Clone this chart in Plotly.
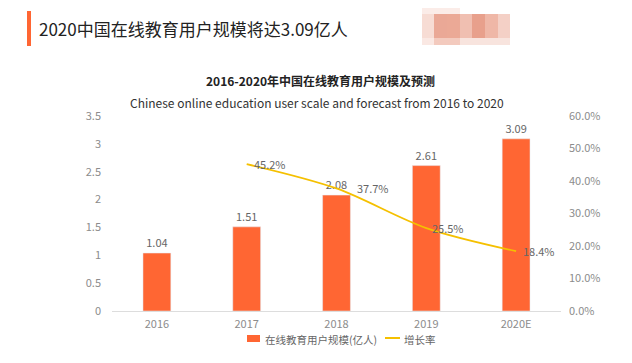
import plotly.graph_objects as go

categories = ["2016", "2017", "2018", "2019", "2020E"]
users = [1.04, 1.51, 2.08, 2.61, 3.09]
growth_x = ["2017", "2018", "2019", "2020E"]
growth = [45.2, 37.7, 25.5, 18.4]
y_ticks = [0, 0.5, 1, 1.5, 2, 2.5, 3, 3.5]
y_tick_text = ["0", "0.5", "1", "1.5", "2", "2.5", "3", "3.5"]
y2_ticks = [0, 10, 20, 30, 40, 50, 60]
y2_tick_text = ["0.0%", "10.0%", "20.0%", "30.0%", "40.0%", "50.0%", "60.0%"]
bar_name = "在线教育用户规模(亿人)"
line_name = "增长率"

FONT = "Noto Sans CJK SC"
GREY = "#8c8c8c"
BAR_C = "#FF6633"
LINE_C = "#F5C000"

# page body adds an 8px margin; size the figure so it fits the 632x363 window
W, H = 624, 355
PL, PT, PW, PH = 112, 116, 449, 195  # plot area in window pixels


def dx(px):
    return (px - PL) / PW


def dy(py):
    return (PT + PH - py) / PH


fig = go.Figure()
fig.add_trace(go.Bar(
    x=categories, y=users, name=bar_name,
    marker=dict(color=BAR_C), width=0.31,
    text=[f"{v:.2f}" for v in users], textposition="outside",
    textfont=dict(color="#666666", size=11, family=FONT),
    cliponaxis=False, showlegend=False,
))
fig.add_trace(go.Scatter(
    x=growth_x, y=growth, name=line_name, yaxis="y2",
    mode="lines", line=dict(color=LINE_C, width=1.8, shape="spline", smoothing=0.9),
    cliponaxis=False, showlegend=False,
))

label_shift = [5, 18, 4, 5]
for cx, v, s in zip(growth_x, growth, label_shift):
    fig.add_annotation(x=categories.index(cx), y=v, xref="x", yref="y2", text=f"{v}%",
                       showarrow=False, xanchor="left", yanchor="middle", xshift=s,
                       font=dict(color="#666666", size=11, family=FONT))

fig.update_layout(
    width=W, height=H,
    margin=dict(l=PL - 8, r=W - (PL - 8) - PW, t=PT - 8, b=H - (PT - 8) - PH, autoexpand=False),
    paper_bgcolor="white", plot_bgcolor="white",
    font=dict(family=FONT, color=GREY, size=11),
    showlegend=False,
    xaxis=dict(type="category", categoryorder="array", categoryarray=categories,
               range=[-0.5, len(categories) - 0.5],
               showgrid=False, showline=True, linecolor="#dddddd", ticks="",
               ticklabelstandoff=3,
               automargin=False, tickfont=dict(size=11, color=GREY)),
    yaxis=dict(range=[0, 3.5], tickvals=y_ticks, ticktext=y_tick_text, showgrid=False,
               zeroline=False, showline=False, ticks="", ticklabelstandoff=10, automargin=False,
               tickfont=dict(size=11, color=GREY)),
    yaxis2=dict(range=[0, 60], tickvals=y2_ticks, ticktext=y2_tick_text, overlaying="y",
                side="right", showgrid=False, zeroline=False, showline=False, ticks="",
                ticklabelstandoff=7, automargin=False, tickfont=dict(size=11, color=GREY)),
    bargap=0.69,
)

# custom legend
fig.add_shape(type="rect", xref="x domain", yref="y domain",
              x0=dx(247), x1=dx(260), y0=dy(342), y1=dy(335),
              fillcolor=BAR_C, line_width=0)
fig.add_annotation(xref="paper", yref="paper", x=dx(263), y=dy(339),
                   xanchor="left", yanchor="middle", showarrow=False, text=bar_name,
                   font=dict(size=10.5, color="#666666", family=FONT))
fig.add_shape(type="line", xref="x domain", yref="y domain",
              x0=dx(385), x1=dx(400), y0=dy(338), y1=dy(338),
              line=dict(color=LINE_C, width=2))
fig.add_annotation(xref="paper", yref="paper", x=dx(402), y=dy(339),
                   xanchor="left", yanchor="middle", showarrow=False, text=line_name,
                   font=dict(size=10.5, color="#666666", family=FONT))

# header accent bar
fig.add_shape(type="rect", xref="x domain", yref="y domain",
              x0=dx(27), x1=dx(31), y0=dy(46), y1=dy(11),
              fillcolor=BAR_C, line_width=0)

# blurred watermark blocks
wm = [
    (422, 434, 14, 38, "#f7dcd4"), (434, 447, 14, 38, "#eaa896"), (447, 460, 14, 38, "#eba996"),
    (460, 472, 14, 38, "#f0bfb1"), (472, 485, 14, 38, "#e8a08c"), (485, 498, 14, 38, "#efb7a7"),
    (498, 510, 14, 38, "#f4d0c6"), (422, 434, 38, 45, "#fae8e3"), (434, 460, 38, 45, "#f3cabe"),
    (460, 510, 38, 45, "#f8e4de"), (422, 460, 3, 14, "#fbece8"),
]
for x0, x1, y0, y1, c in wm:
    fig.add_shape(type="rect", xref="x domain", yref="y domain",
                  x0=dx(x0), x1=dx(x1), y0=dy(y1), y1=dy(y0),
                  fillcolor=c, line_width=0, layer="above")

fig.add_annotation(xref="paper", yref="paper", x=dx(37), y=dy(28),
                   xanchor="left", yanchor="middle", showarrow=False,
                   text="2020中国在线教育用户规模将达3.09亿人",
                   font=dict(size=17, color="#222222", family=FONT))
fig.add_annotation(xref="paper", yref="paper", x=dx(320), y=dy(80),
                   xanchor="center", yanchor="middle", showarrow=False,
                   text="<b>2016-2020年中国在线教育用户规模及预测</b>",
                   font=dict(size=12, color="#222222", family=FONT))
fig.add_annotation(xref="paper", yref="paper", x=dx(317), y=dy(102),
                   xanchor="center", yanchor="middle", showarrow=False,
                   text="Chinese online education user scale and forecast from 2016 to 2020",
                   font=dict(size=12, color="#333333", family=FONT))

fig.write_html("out.html")
